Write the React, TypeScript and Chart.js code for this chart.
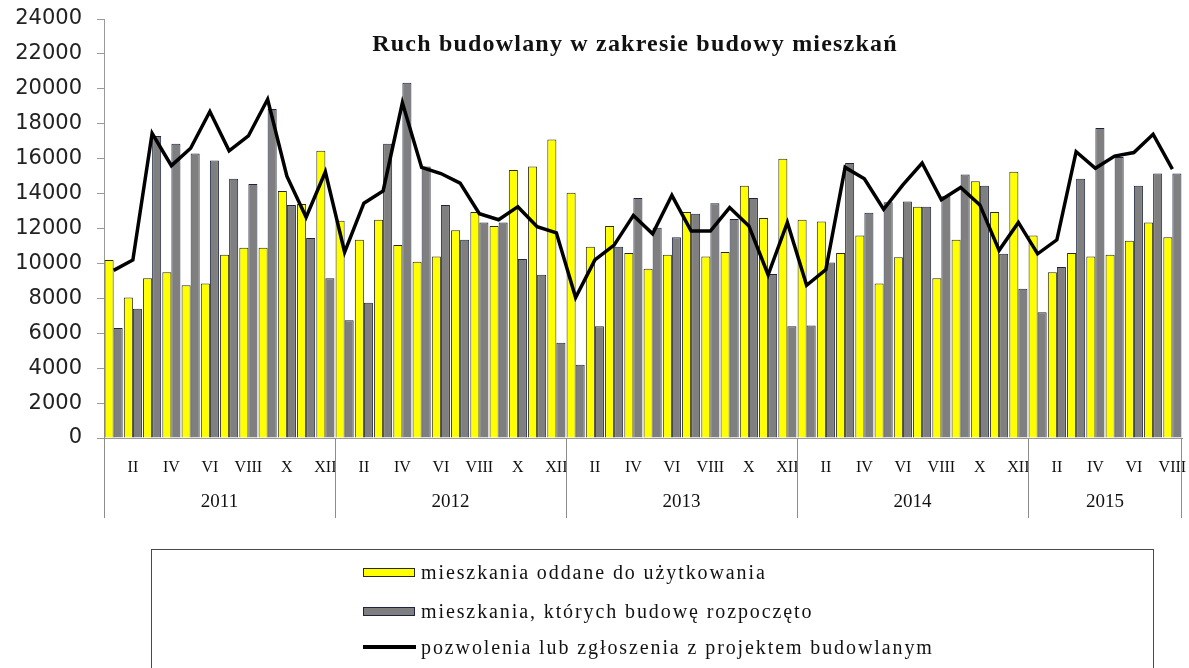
import React, { useEffect, useRef } from 'react';
import { Chart, registerables } from 'chart.js';

Chart.register(...registerables);

const years = ['2011', '2012', '2013', '2014', '2015'];
const monthsInYear = [12, 12, 12, 12, 8];
const romanMonths = ['I', 'II', 'III', 'IV', 'V', 'VI', 'VII', 'VIII', 'IX', 'X', 'XI', 'XII'];

// mieszkania oddane do użytkowania
const completed = [
  10200, 8050, 9150, 9500, 8750, 8850, 10500, 10900, 10900, 14150, 13400, 16450,
  12450, 11350, 12500, 11050, 10100, 10400, 11900, 12950, 12150, 15350, 15550, 17100,
  14050, 10950, 12150, 10600, 9700, 10500, 12950, 10400, 10650, 14450, 12600, 16000,
  12500, 12400, 10600, 11600, 8850, 10350, 13250, 9150, 11350, 14700, 12950, 15250,
  11600, 9500, 10600, 10400, 10500, 11300, 12350, 11500,
];

// mieszkania, których budowę rozpoczęto
const started = [
  6300, 7400, 17300, 16850, 16300, 15900, 14850, 14550, 18850, 13350, 11450, 9150,
  6750, 7750, 16850, 20350, 15550, 13350, 11350, 12350, 12350, 10250, 9350, 5450,
  4200, 6400, 10950, 13750, 12050, 11500, 12850, 13450, 12550, 13750, 9400, 6400,
  6450, 10050, 15750, 12900, 13500, 13550, 13250, 13850, 15100, 14450, 10550, 8550,
  7200, 9800, 14850, 17750, 16100, 14450, 15150, 15150,
];

// pozwolenia lub zgłoszenia z projektem budowlanym
const permits = [
  9600, 10200, 17450, 15600, 16600, 18700, 16450, 17300, 19400, 15000, 12650, 15250,
  10650, 13450, 14150, 19200, 15500, 15150, 14600, 12850, 12500, 13250, 12100, 11750,
  8050, 10200, 11050, 12750, 11700, 13900, 11850, 11850, 13200, 12150, 9350, 12350,
  8750, 9650, 15500, 14850, 13100, 14500, 15750, 13650, 14350, 13350, 10750, 12350,
  10550, 11350, 16400, 15450, 16150, 16350, 17400, 15400,
];

const yTicks = [0, 2000, 4000, 6000, 8000, 10000, 12000, 14000, 16000, 18000, 20000, 22000, 24000];

const titleText = 'Ruch budowlany w zakresie budowy mieszkań';
const legendLabels = [
  'mieszkania oddane do użytkowania',
  'mieszkania, których budowę rozpoczęto',
  'pozwolenia lub zgłoszenia z projektem budowlanym',
];

const labels: string[] = [];
const monthIndex: number[] = [];
years.forEach((y, yi) => {
  for (let m = 0; m < monthsInYear[yi]; m++) {
    labels.push(romanMonths[m] + ' ' + y);
    monthIndex.push(m);
  }
});

const yearPlugin = {
  id: 'yearLabels',
  afterDraw(chart: any) {
    const xs = chart.scales.x;
    const ctx = chart.ctx;
    const area = chart.chartArea;
    const step = xs.getPixelForTick(1) - xs.getPixelForTick(0);
    ctx.save();
    ctx.strokeStyle = '#8c8c8c';
    ctx.lineWidth = 1;
    ctx.fillStyle = '#111';
    ctx.font = '19px "Liberation Serif", serif';
    ctx.textAlign = 'center';
    ctx.textBaseline = 'middle';
    let idx = 0;
    years.forEach((y, yi) => {
      const n = monthsInYear[yi];
      const start = xs.getPixelForTick(idx) - step / 2;
      const end = xs.getPixelForTick(idx + n - 1) + step / 2;
      const sx = Math.round(start) + 0.5;
      ctx.beginPath();
      ctx.moveTo(sx, area.bottom);
      ctx.lineTo(sx, 518);
      ctx.stroke();
      if (yi === years.length - 1) {
        const ex = Math.round(end) - 0.5;
        ctx.beginPath();
        ctx.moveTo(ex, area.bottom);
        ctx.lineTo(ex, 518);
        ctx.stroke();
      }
      ctx.fillText(y, (start + end) / 2, 502);
      idx += n;
    });
    ctx.restore();
  },
};

export default function App() {
  const canvasRef = useRef<HTMLCanvasElement | null>(null);

  useEffect(() => {
    document.body.style.margin = '0';
    const canvas = canvasRef.current;
    if (!canvas) return;
    const chart = new Chart(canvas, {
      type: 'bar',
      data: {
        labels,
        datasets: [
          {
            type: 'line',
            label: legendLabels[2],
            data: permits,
            borderColor: '#000000',
            borderWidth: 3.5,
            pointRadius: 0,
            tension: 0,
            fill: false,
            order: 0,
          } as any,
          {
            type: 'bar',
            label: legendLabels[0],
            data: completed,
            backgroundColor: '#FFFF00',
            borderColor: '#2a2a1a',
            borderWidth: 1,
            categoryPercentage: 0.94,
            barPercentage: 1.0,
            order: 1,
          },
          {
            type: 'bar',
            label: legendLabels[1],
            data: started,
            backgroundColor: '#7F7F7F',
            borderColor: '#1c2440',
            borderWidth: 1,
            categoryPercentage: 0.94,
            barPercentage: 1.0,
            order: 2,
          },
        ],
      },
      options: {
        animation: false,
        responsive: false,
        devicePixelRatio: 1,
        layout: { padding: { top: 19, right: 7, left: 0, bottom: 0 } },
        plugins: {
          legend: { display: false },
          tooltip: { enabled: false },
          title: { display: false },
        },
        scales: {
          x: {
            type: 'category',
            offset: true,
            grid: {
              display: true,
              drawOnChartArea: false,
              drawTicks: true,
              tickLength: 20,
              tickColor: 'rgba(0,0,0,0)',
            },
            border: { display: true, color: '#9a9a9a', width: 1 },
            ticks: {
              autoSkip: false,
              maxRotation: 0,
              minRotation: 0,
              padding: 0,
              color: '#111',
              font: { family: '"Liberation Serif", serif', size: 16 },
              callback: (_v: any, i: number) => {
                const m = monthIndex[i];
                return (m + 1) % 2 === 0 ? romanMonths[m] : '';
              },
            },
            afterFit: (s: any) => {
              s.height = 230;
            },
          },
          y: {
            min: yTicks[0],
            max: yTicks[yTicks.length - 1],
            grid: {
              drawOnChartArea: false,
              drawTicks: true,
              tickLength: 22,
              tickColor: '#9a9a9a',
              tickBorderDash: [0, 15, 7, 100],
            },
            border: { display: true, color: '#9a9a9a', width: 1 },
            ticks: {
              stepSize: yTicks[1] - yTicks[0],
              padding: 0,
              color: '#222',
              font: { family: '"DejaVu Sans", sans-serif', size: 21 },
              callback: (v: any) => String(v),
            },
            afterFit: (s: any) => {
              s.width = 104;
            },
          },
        },
      },
      plugins: [yearPlugin],
    });
    return () => chart.destroy();
  }, []);

  const legendFont: React.CSSProperties = {
    fontFamily: '"Liberation Serif", serif',
    fontSize: 20,
    letterSpacing: '1.9px',
    color: '#111',
    whiteSpace: 'nowrap',
  };
  const rowCenters = [572, 611, 647];

  return (
    <div style={{ position: 'relative', width: 1189, height: 668, overflow: 'hidden', background: '#fff' }}>
      <canvas ref={canvasRef} width={1189} height={668} style={{ position: 'absolute', left: 0, top: 0, width: 1189, height: 668 }} />
      <div
        style={{
          position: 'absolute',
          left: 285,
          width: 700,
          top: 29,
          textAlign: 'center',
          fontFamily: '"Liberation Serif", serif',
          fontWeight: 'bold',
          fontSize: 24,
          letterSpacing: '1.2px',
          lineHeight: '28px',
          color: '#111',
          whiteSpace: 'nowrap',
        }}
      >
        {titleText}
      </div>
      <div
        style={{
          position: 'absolute',
          left: 151,
          top: 549,
          width: 1003,
          height: 140,
          border: '1.5px solid #4a4a4a',
          boxSizing: 'border-box',
        }}
      />
      {legendLabels.map((t, i) => (
        <div
          key={t}
          style={{
            position: 'absolute',
            left: 363,
            top: rowCenters[i] - 12,
            height: 24,
            display: 'flex',
            alignItems: 'center',
          }}
        >
          {i < 2 ? (
            <div
              style={{
                width: 52,
                height: 9,
                background: i === 0 ? '#FFFF00' : '#7F7F7F',
                border: i === 0 ? '1px solid #2a2a1a' : '1px solid #1c2440',
                boxSizing: 'border-box',
                marginRight: 6,
              }}
            />
          ) : (
            <div style={{ width: 53, height: 4, background: '#000', marginRight: 5 }} />
          )}
          <span style={legendFont}>{t}</span>
        </div>
      ))}
    </div>
  );
}
